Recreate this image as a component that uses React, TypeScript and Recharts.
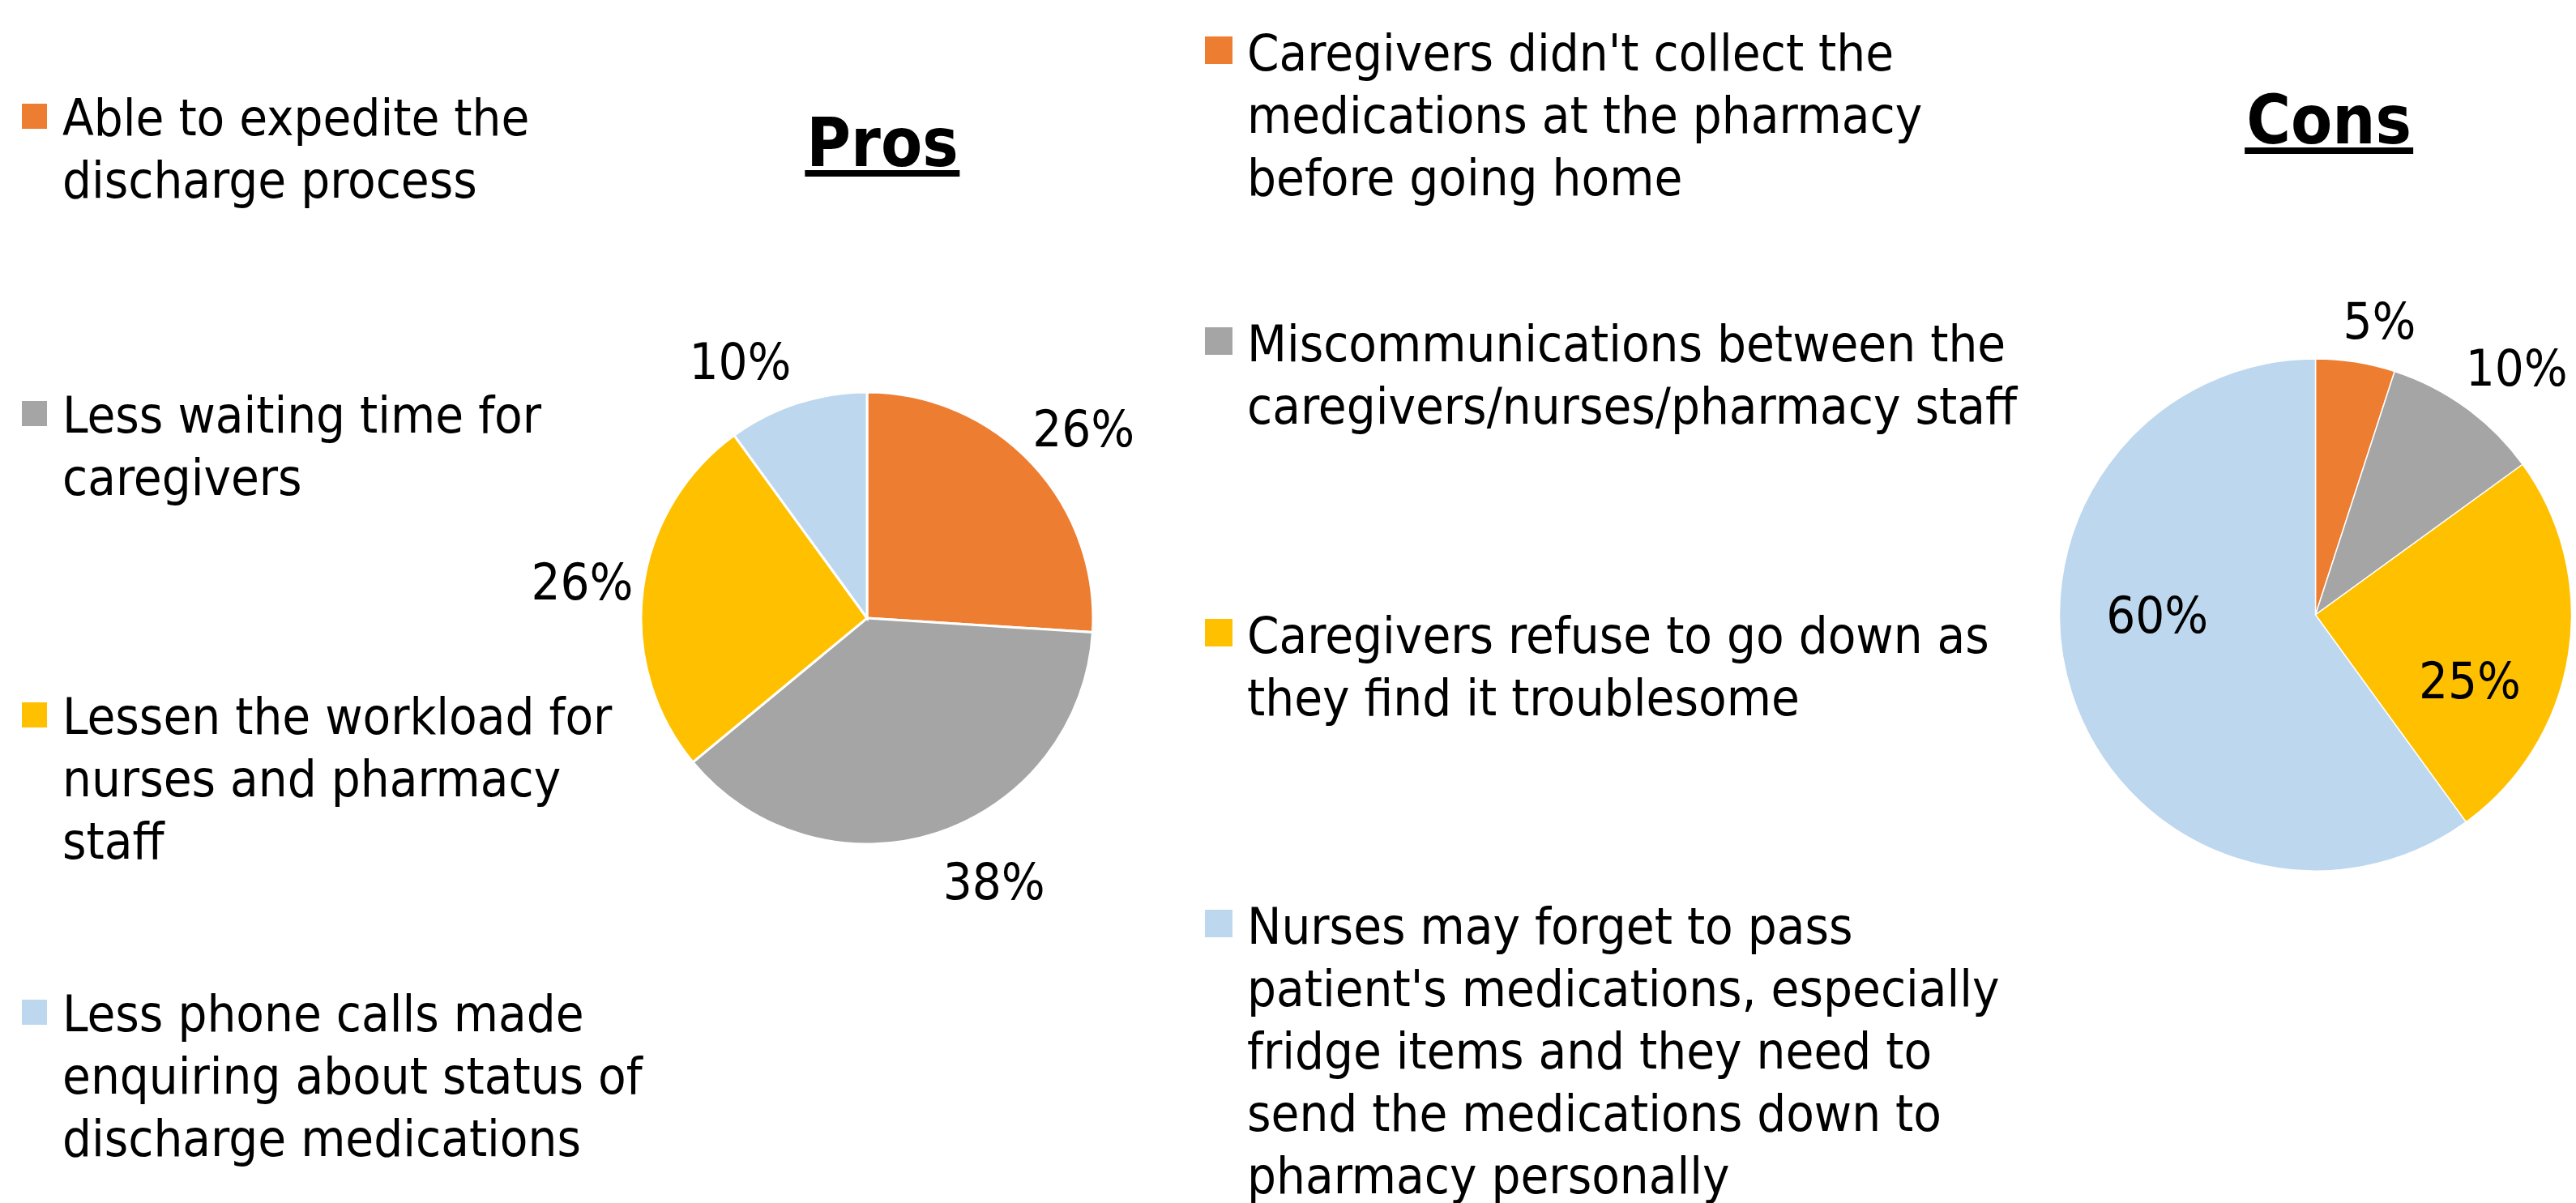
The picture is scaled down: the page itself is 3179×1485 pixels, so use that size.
import { Cell, Pie, PieChart } from "recharts";

const FONT = '"DejaVu Sans Condensed", "DejaVu Sans", sans-serif';

// Pros (left chart)
const prosItems = [
  "Able to expedite the\ndischarge process",
  "Less waiting time for\ncaregivers",
  "Lessen the workload for\nnurses and pharmacy\nstaff",
  "Less phone calls made\nenquiring about status of\ndischarge medications"
];
const prosValues = [26, 38, 26, 10];

// Cons (right chart)
const consItems = [
  "Caregivers didn't collect the\nmedications at the pharmacy\nbefore going home",
  "Miscommunications between the\ncaregivers/nurses/pharmacy staff",
  "Caregivers refuse to go down as\nthey find it troublesome",
  "Nurses may forget to pass\npatient's medications, especially\nfridge items and they need to\nsend the medications down to\npharmacy personally"
];
const consValues = [5, 10, 25, 60];

const sliceColors = ["#ED7D31", "#A5A5A5", "#FFC000", "#BDD7EE"];

const prosData = prosItems.map((name, i) => ({ name, value: prosValues[i] }));
const consData = consItems.map((name, i) => ({ name, value: consValues[i] }));

// layout (label nudges follow Excel's "best fit" placement)
const prosLabelPos = [
  { shift: 2, r: 1.273 },
  { shift: -7.7, r: 1.295 },
  { shift: 0, r: 1.27 },
  { shift: -8.3, r: 1.266 }
];
const consLabelPos = [
  { shift: 3.3, r: 1.174 },
  { shift: 3.2, r: 1.243 },
  { shift: 14.3, r: 0.656 },
  { shift: 18, r: 0.618 }
];

const prosLegend = { squareX: 27, textX: 77, square: 31, lineHeight: 77, baselines: [167, 534, 906, 1273] };
const consLegend = { squareX: 1487, textX: 1539, square: 34, lineHeight: 77, baselines: [87, 446, 806, 1165] };

const FONT_SIZE = 63;

function makeLabel(pos: { shift: number; r: number }[]) {
  return (props: any) => {
    const { cx, cy, midAngle, outerRadius, index, value } = props;
    const p = pos[index];
    const a = ((midAngle - p.shift) * Math.PI) / 180;
    const r = outerRadius * p.r;
    const x = cx + r * Math.cos(-a);
    const y = cy + r * Math.sin(-a);
    return (
      <text
        x={x}
        y={y}
        textAnchor="middle"
        dominantBaseline="central"
        fill="#000"
        fontFamily={FONT}
        fontSize={FONT_SIZE}
      >
        {`${value}%`}
      </text>
    );
  };
}

function LegendBlock({
  items,
  layout
}: {
  items: string[];
  layout: { squareX: number; textX: number; square: number; lineHeight: number; baselines: number[] };
}) {
  const baseOffset = (layout.lineHeight - 1.164 * FONT_SIZE) / 2 + 0.928 * FONT_SIZE;
  return (
    <>
      {items.map((item, i) => (
        <div key={item}>
          <div
            style={{
              position: "absolute",
              left: layout.squareX,
              top: layout.baselines[i] - layout.square - 8,
              width: layout.square,
              height: layout.square,
              background: sliceColors[i]
            }}
          />
          <div
            style={{
              position: "absolute",
              left: layout.textX,
              top: layout.baselines[i] - baseOffset,
              whiteSpace: "pre",
              fontFamily: FONT,
              fontSize: FONT_SIZE,
              lineHeight: `${layout.lineHeight}px`,
              color: "#000"
            }}
          >
            {item}
          </div>
        </div>
      ))}
    </>
  );
}

function Title({ text, centerX, baseline }: { text: string; centerX: number; baseline: number }) {
  const size = 83;
  const lh = 67.4;
  const top = baseline - ((lh - 1.164 * size) / 2 + 0.928 * size);
  return (
    <div
      style={{
        position: "absolute",
        left: centerX,
        top,
        transform: "translateX(-50%)",
        display: "inline-block",
        fontFamily: FONT,
        fontWeight: 700,
        fontSize: size,
        lineHeight: `${lh}px`,
        borderBottom: "8px solid #000",
        padding: "0 2px",
        color: "#000",
        whiteSpace: "nowrap"
      }}
    >
      {text}
    </div>
  );
}

export default function App() {
  return (
    <div style={{ position: "absolute", left: 0, top: 0, width: 3179, height: 1485, background: "#fff", overflow: "hidden" }}>
      <PieChart width={3179} height={1485} margin={{ top: 0, right: 0, bottom: 0, left: 0 }} style={{ position: "absolute", left: 0, top: 0 }}>
        <Pie
          data={prosData}
          dataKey="value"
          nameKey="name"
          cx={1070}
          cy={763}
          outerRadius={279}
          startAngle={90}
          endAngle={-270}
          stroke="#fff"
          strokeWidth={3}
          labelLine={false}
          label={makeLabel(prosLabelPos)}
          isAnimationActive={false}
        >
          {prosData.map((d, i) => (
            <Cell key={d.name} fill={sliceColors[i]} />
          ))}
        </Pie>
        <Pie
          data={consData}
          dataKey="value"
          nameKey="name"
          cx={2857.5}
          cy={759}
          outerRadius={316}
          startAngle={90}
          endAngle={-270}
          stroke="#fff"
          strokeWidth={1.5}
          labelLine={false}
          label={makeLabel(consLabelPos)}
          isAnimationActive={false}
        >
          {consData.map((d, i) => (
            <Cell key={d.name} fill={sliceColors[i]} />
          ))}
        </Pie>
      </PieChart>
      <LegendBlock items={prosItems} layout={prosLegend} />
      <LegendBlock items={consItems} layout={consLegend} />
      <Title text="Pros" centerX={1089} baseline={205} />
      <Title text="Cons" centerX={2874} baseline={177} />
    </div>
  );
}
